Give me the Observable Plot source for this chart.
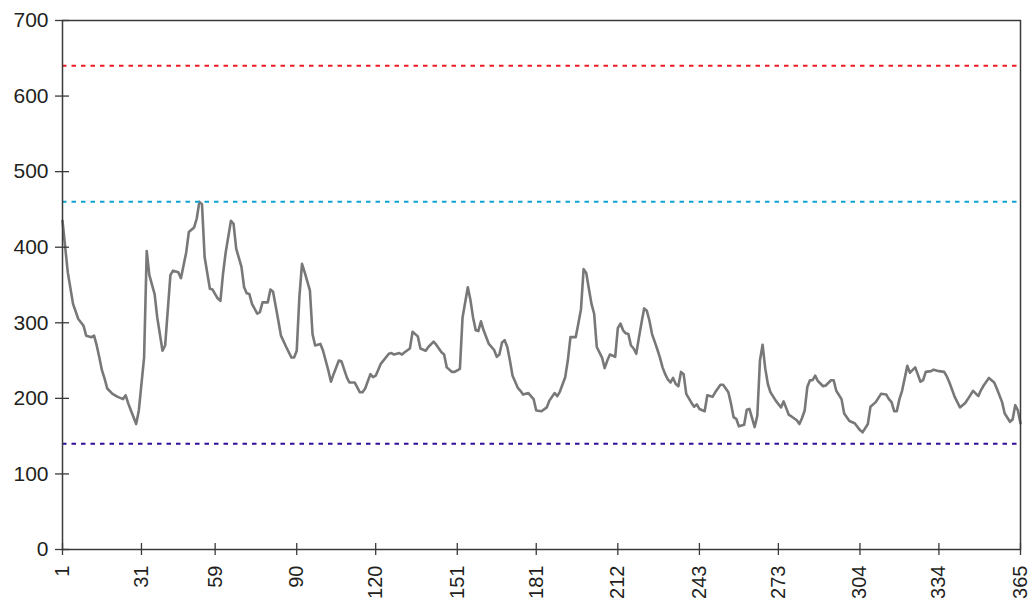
<!DOCTYPE html>
<html>
<head>
<meta charset="utf-8">
<script src="https://cdn.jsdelivr.net/npm/d3@7"></script>
<script src="https://cdn.jsdelivr.net/npm/@observablehq/plot@0.6"></script>
<style>
  html, body { margin: 0; padding: 0; background: #fff; }
  #chart { width: 1036px; height: 601px; }
</style>
</head>
<body>
<div id="chart"></div>
<script>
// ---- data ----
const days = [1,3,5,7,9,10,12,13,14,15,16,17,18,20,22,24,25,26,27,29,30,32,33,34,36,37,39,40,42,43,45,46,48,49,51,52,53,54,55,57,58,60,61,62,63,65,66,67,69,70,71,72,73,75,76,77,79,80,81,83,84,86,88,89,90,91,92,93,95,96,97,99,100,102,103,104,106,107,109,110,112,114,115,116,118,119,120,122,125,126,127,129,130,131,133,134,136,137,139,140,142,143,145,146,147,149,150,151,152,153,155,156,157,158,159,160,161,163,165,166,167,168,169,170,171,172,174,175,176,178,180,181,183,185,186,188,189,190,192,193,194,196,197,198,199,200,201,202,203,204,206,207,208,209,211,212,213,214,215,216,217,218,219,220,221,222,223,224,225,226,227,228,229,230,231,232,233,234,235,236,237,238,239,240,241,242,243,245,246,248,249,251,252,254,255,256,257,258,260,261,262,264,265,266,267,268,269,270,272,274,275,277,278,280,281,282,283,284,285,286,287,288,290,291,293,294,295,297,298,300,302,304,305,307,308,310,312,314,315,316,317,318,319,320,322,323,325,327,328,329,331,332,334,336,337,338,340,342,344,345,347,349,350,351,353,355,356,358,359,361,362,363,364,365];
const values = [435,367,325,305,296,283,281,283,270,254,237,226,213,206,202,199,204,193,184,166,184,254,395,363,338,307,263,270,363,369,367,359,393,420,426,438,460,457,387,345,344,332,329,365,393,435,431,398,374,347,339,338,325,312,314,327,327,344,341,303,283,268,254,254,263,334,378,367,343,285,270,272,263,237,222,232,250,249,228,221,221,208,208,213,232,228,230,246,259,260,258,260,258,261,266,288,282,266,263,268,275,271,261,258,241,235,235,237,239,307,347,330,307,290,289,302,290,272,264,255,258,274,277,268,250,230,214,210,205,207,199,184,183,188,197,207,203,209,228,250,281,281,299,318,371,366,345,325,312,268,254,240,250,258,255,293,299,290,286,285,270,266,259,280,300,319,316,303,285,275,265,254,241,232,225,221,227,219,216,235,232,206,200,194,189,192,186,183,204,202,208,218,218,208,193,175,173,163,165,185,186,162,177,250,271,240,219,208,197,188,196,178,176,171,166,174,184,215,224,224,230,223,216,217,224,224,210,199,180,170,167,158,155,166,189,195,206,205,199,195,183,183,199,210,243,234,241,222,224,235,236,238,236,235,229,221,202,188,194,199,210,203,211,217,227,221,213,195,180,169,172,191,184,167];

const xTicks = [1,31,59,90,120,151,181,212,243,273,304,334,365];
const yTicks = [0,100,200,300,400,500,600,700];

const refValues = [640, 460, 140];
const refColors = ["#ec1c24", "#0ea3d3", "#2f0e9c"];

// ---- tables built from the arrays ----
const series = days.map((d, i) => ({day: d, value: values[i]}));
const refs = refValues.map((v, i) => ({value: v, color: refColors[i]}));

const axisColor = "#3a3a3a";
const textColor = "#231f20";

const chart = Plot.plot({
  width: 1036,
  height: 601,
  marginLeft: 62,
  marginRight: 16,
  marginTop: 20,
  marginBottom: 52,
  style: {
    fontFamily: "'Liberation Sans', Arial, Helvetica, sans-serif",
    fontSize: "21px",
    color: textColor,
    background: "#fff"
  },
  x: {domain: [1, 365], axis: null},
  y: {domain: [0, 700], axis: null},
  color: {type: "identity"},
  marks: [
    Plot.line(series, {x: "day", y: "value", stroke: "#787878", strokeWidth: 2.6, strokeLinejoin: "round"}),
    Plot.ruleY(refs, {y: "value", stroke: "color", strokeWidth: 2, strokeDasharray: "4.5,5"}),
    Plot.frame({stroke: axisColor, strokeWidth: 1.5}),
    // crossing ticks
    Plot.axisY({ticks: yTicks, tickSize: 14, dx: 7, tickFormat: () => "", label: null, stroke: axisColor, strokeWidth: 1.3}),
    Plot.axisX({ticks: xTicks, tickSize: 12, dy: -6, tickFormat: () => "", label: null, stroke: axisColor, strokeWidth: 1.3}),
    // labels
    Plot.axisY({ticks: yTicks, tickSize: 0, tickPadding: 14, label: null, fontSize: 21, fill: textColor}),
    Plot.axisX({ticks: xTicks, tickSize: 0, tickPadding: 16, tickRotate: -90, label: null, fontSize: 20, fill: textColor})
  ]
});

document.getElementById("chart").appendChild(chart);
</script>
</body>
</html>
